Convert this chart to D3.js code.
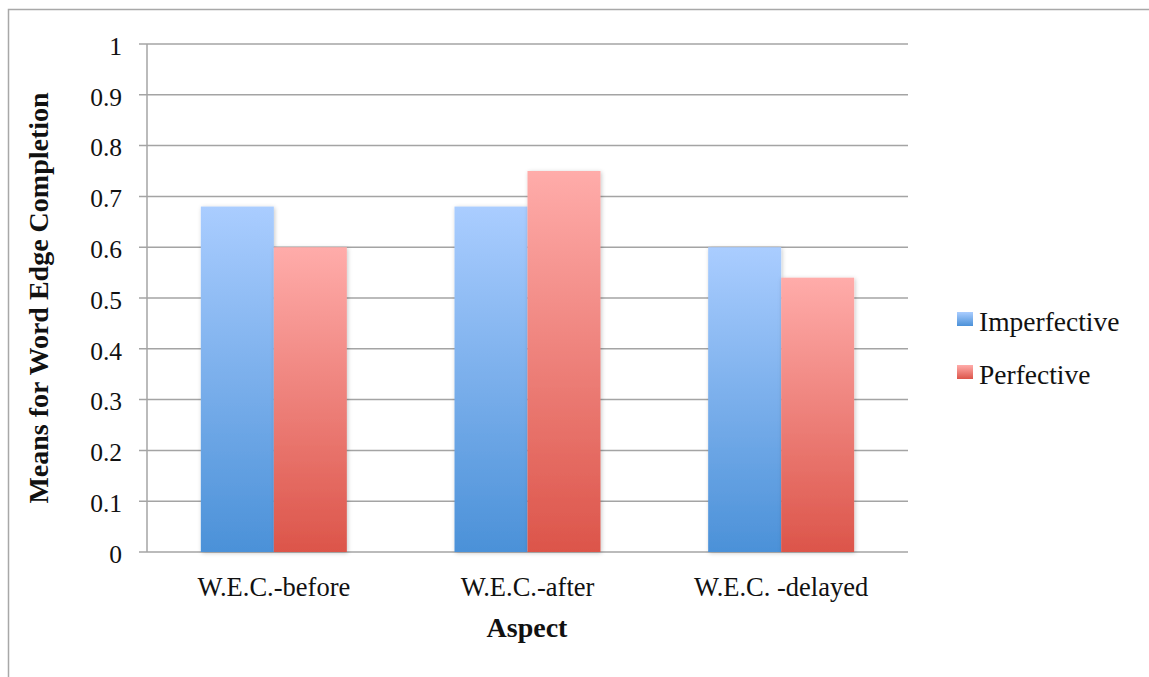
<!DOCTYPE html>
<html><head><meta charset="utf-8">
<script src="https://cdn.jsdelivr.net/npm/d3@7/dist/d3.min.js"></script>
<style>body{margin:0;background:#fff}svg{display:block}</style>
</head><body>
<svg id="c" width="1149" height="677"></svg>
<script>
const categories = ["W.E.C.-before", "W.E.C.-after", "W.E.C. -delayed"];
const seriesNames = ["Imperfective", "Perfective"];
const imperfective = [0.68, 0.68, 0.60];
const perfective = [0.60, 0.75, 0.54];
const yTicks = [0, 0.1, 0.2, 0.3, 0.4, 0.5, 0.6, 0.7, 0.8, 0.9, 1];
const yTickLabels = ["0", "0.1", "0.2", "0.3", "0.4", "0.5", "0.6", "0.7", "0.8", "0.9", "1"];

(function () {
const seriesValues = [imperfective, perfective];
const font = "'Liberation Serif','DejaVu Serif',serif";
const svg = d3.select("#c");

svg.append("rect").attr("x", 8.5).attr("y", 9.5).attr("width", 1160).attr("height", 700)
  .attr("fill", "none").attr("stroke", "#a8a8a8").attr("stroke-width", 1.5);

const defs = svg.append("defs");
const grads = [["gBlue", "#aacdff", "#4b91d8"], ["gRed", "#ffacaa", "#dc554a"]];
grads.forEach(([id, c1, c2]) => {
  const g = defs.append("linearGradient").attr("id", id).attr("x1", 0).attr("y1", 0).attr("x2", 0).attr("y2", 1);
  g.append("stop").attr("offset", "0%").attr("stop-color", c1);
  g.append("stop").attr("offset", "100%").attr("stop-color", c2);
});
const f = defs.append("filter").attr("id", "sh").attr("x", "-20%").attr("y", "-5%").attr("width", "140%").attr("height", "115%");
f.append("feDropShadow").attr("dx", 1).attr("dy", 1).attr("stdDeviation", 2).attr("flood-color", "#000").attr("flood-opacity", 0.22);

const pL = 147, pR = 908, pT = 44, pB = 552;
const x0 = d3.scaleBand().domain(categories).range([pL, pR]).paddingInner(0).paddingOuter(0);
const y = d3.scaleLinear().domain([0, 1]).range([pB, pT]);
const groupInner = 146 / x0.bandwidth();
const x1 = d3.scaleBand().domain(seriesNames)
  .range([x0.bandwidth() * (1 - groupInner) / 2, x0.bandwidth() * (1 + groupInner) / 2]);

svg.append("g").selectAll("line").data(yTicks).join("line")
  .attr("x1", 139).attr("x2", pR).attr("y1", d => y(d)).attr("y2", d => y(d))
  .attr("stroke", "#a4a4a4").attr("stroke-width", 1.5);
svg.append("line").attr("x1", pL).attr("x2", pL).attr("y1", pT).attr("y2", pB)
  .attr("stroke", "#a4a4a4").attr("stroke-width", 1.5);

svg.append("g").selectAll("text").data(yTicks).join("text")
  .attr("x", 122).attr("y", d => y(d)).attr("dy", "0.42em").attr("text-anchor", "end")
  .attr("font-family", font).attr("font-size", 25.5).attr("fill", "#111")
  .text((d, i) => yTickLabels[i]);

const groups = svg.append("g").selectAll("g").data(categories).join("g")
  .attr("transform", d => `translate(${x0(d)},0)`);
groups.selectAll("rect").data((c, ci) => seriesNames.map((s, si) => ({ s, si, v: seriesValues[si][ci] })))
  .join("rect")
  .attr("x", d => x1(d.s)).attr("width", x1.bandwidth())
  .attr("y", d => y(d.v)).attr("height", d => y(0) - y(d.v))
  .attr("fill", d => d.si === 0 ? "url(#gBlue)" : "url(#gRed)")
  .attr("filter", "url(#sh)");

svg.append("g").selectAll("text").data(categories).join("text")
  .attr("x", d => x0(d) + x0.bandwidth() / 2).attr("y", 596).attr("text-anchor", "middle")
  .attr("font-family", font).attr("font-size", 26.5).attr("fill", "#111").text(d => d);

svg.append("text").attr("x", 527).attr("y", 637).attr("text-anchor", "middle")
  .attr("font-family", font).attr("font-size", 28).attr("font-weight", "bold").attr("fill", "#111").text("Aspect");
svg.append("text").attr("transform", "translate(48,298) rotate(-90)").attr("text-anchor", "middle")
  .attr("font-family", font).attr("font-size", 28).attr("font-weight", "bold").attr("fill", "#111")
  .text("Means for Word Edge Completion");

const leg = svg.append("g").selectAll("g").data(seriesNames).join("g")
  .attr("transform", (d, i) => `translate(957,${312 + i * 53})`);
leg.append("rect").attr("width", 16).attr("height", 14)
  .attr("fill", (d, i) => i === 0 ? "url(#gBlue)" : "url(#gRed)");
leg.append("text").attr("x", 22).attr("y", 19)
  .attr("font-family", font).attr("font-size", 27.5).attr("fill", "#111").text(d => d);
})();
</script>
</body></html>
